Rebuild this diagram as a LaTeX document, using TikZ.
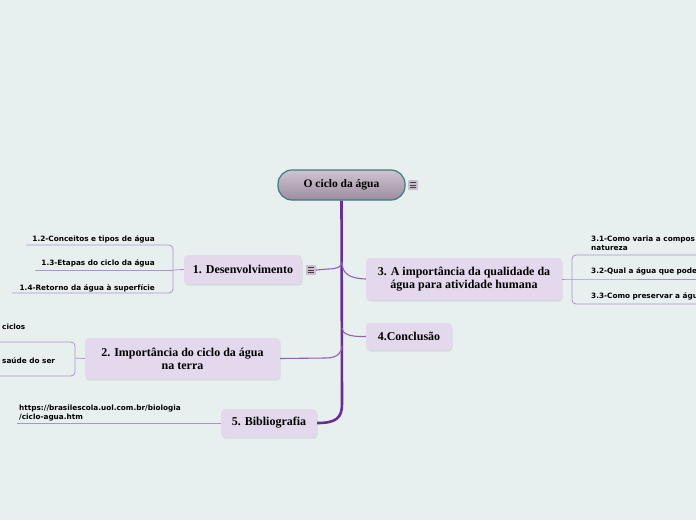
\documentclass[tikz,border=0pt]{standalone}
\usepackage{fontspec}
\setmainfont{Liberation Serif}
\newfontfamily\twigfont{DejaVu Sans}
\usetikzlibrary{calc,positioning,shadows}
\definecolor{bgc}{HTML}{E8F0EF}
\definecolor{trunkc}{HTML}{6A2D96}
\definecolor{branchc}{HTML}{8E62B4}
\definecolor{twigc}{HTML}{AD93C8}
\definecolor{topicc}{HTML}{E4D8EC}
\definecolor{roottop}{HTML}{CFC2D1}
\definecolor{rootbot}{HTML}{9C8E9F}
\definecolor{rootline}{HTML}{3E7C7A}
\definecolor{menuc}{HTML}{C9BDD0}
\tikzset{
  topic/.style={fill=topicc,rounded corners=4pt,align=center,inner sep=2pt,
    font=\bfseries\fontsize{12}{13}\selectfont,
    drop shadow={opacity=0.18,shadow xshift=0.6pt,shadow yshift=-1.6pt}},
  twig/.style={font=\twigfont\bfseries\fontsize{7.3}{9}\selectfont,inner sep=0pt,align=left},
  trunk/.style={line width=2.6pt,trunkc},
  branch/.style={line width=1.1pt,branchc},
  tline/.style={line width=0.8pt,twigc,rounded corners=4pt},
  menu/.style={fill=menuc,rounded corners=1pt,minimum size=10pt,inner sep=0pt}
}
\newcommand{\menuicon}[1]{%
  \draw[black!75,line width=0.8pt] ($(#1)+(-2.6,-2.2)$)--++(5.2,0) ($(#1)+(-2.6,0)$)--++(5.2,0) ($(#1)+(-2.6,2.2)$)--++(5.2,0);}
\begin{document}
\begin{tikzpicture}[x=1pt,y=-1pt]
\fill[bgc] (0,0) rectangle (696,520);
\useasboundingbox (0,0) rectangle (696,520);
\clip (0,0) rectangle (696,520);
% central topic
\node[draw=rootline,line width=1.2pt,top color=roottop,bottom color=rootbot,rounded corners=14pt,
  minimum width=127pt,minimum height=30pt,font=\bfseries\fontsize{11.5}{13}\selectfont] (root) at (341.5,185) {O ciclo da água};
\node[menu] (rootm) at (413,185) {};
\menuicon{rootm}
% main topics
\node[topic,minimum width=118pt,minimum height=29pt] (dev) at (243,269.5) {1. Desenvolvimento};
\node[menu] (devm) at (311,270) {};
\menuicon{devm}
\node[topic,minimum width=195pt,minimum height=41pt] (imp) at (182.5,358.5) {2. Importância do ciclo da água\\na terra};
\node[topic,minimum width=196pt,minimum height=42pt] (qual) at (464,279) {3. A importância da qualidade da\\água para atividade humana};
\node[topic,minimum width=86pt,minimum height=27pt] (conc) at (409,336.5) {4.Conclusão};
\node[topic,minimum width=96pt,minimum height=28pt] (bib) at (269,423) {5. Bibliografia};
% trunk and joints
\coordinate (j1) at (342,262);
\coordinate (j2) at (342,328);
\coordinate (j3) at (342,346);
\coordinate (j4) at (342,404);
\draw[trunk] (root.south) -- (j4) .. controls (342,418) and (336,423) .. (bib.east);
\draw[branch] (devm.east) -- (328,269) .. controls (338,269) and (342,266) .. (j1);
\draw[branch] (j1) .. controls (342,274) and (350,278.5) .. (qual.west);
\draw[branch] (j2) .. controls (342,334) and (350,337) .. (conc.west);
\draw[branch] (imp.east) -- (326,358) .. controls (338,358) and (342,352) .. (j3);
% 1.x
\coordinate (b1) at (173,270);
\coordinate (e12) at (26,245);
\coordinate (e13) at (35,270);
\coordinate (e14) at (12,293);
\draw[tline] (dev.west) -- (b1);
\draw[tline] (e12) -- (173,245) -- (173,293) -- (e14);
\draw[tline] (e13) -- (b1);
\node[twig,anchor=base east] (s12) at (155,241) {1.2-Conceitos e tipos de água};
\node[twig,anchor=base east] (s13) at (155,265) {1.3-Etapas do ciclo da água};
\node[twig,anchor=base east] (s14) at (155,290) {1.4-Retorno da água à superfície};
% 2.x
\coordinate (b2) at (75,358);
\coordinate (e21) at (-5,342);
\coordinate (e22) at (-5,376);
\draw[tline] (imp.west) -- (b2);
\draw[tline] (e21) -- (75,342) -- (75,376) -- (e22);
\node[twig,anchor=base west] (s21) at (2,329) {ciclos};
\node[twig,anchor=base west] (s22) at (2,363) {saúde do ser};
% 3.x
\coordinate (b3) at (572,279);
\coordinate (e31) at (700,255);
\coordinate (e32) at (700,279);
\coordinate (e33) at (700,304);
\draw[tline] (qual.east) -- (b3) -- (e32);
\draw[tline] (e31) -- (572,255) -- (572,304) -- (e33);
\node[twig,anchor=base west] (s31) at (591,250) {3.1-Como varia a compos\\natureza};
\node[twig,anchor=base west] (s32) at (591,273) {3.2-Qual a água que pode};
\node[twig,anchor=base west] (s33) at (591,298) {3.3-Como preservar a águ};
% 5.x
\coordinate (e51) at (17,423);
\draw[tline] (bib.west) -- (e51);
\node[twig,anchor=base west] (s51) at (19,419) {https://brasilescola.uol.com.br/biologia\\/ciclo-agua.htm};
\end{tikzpicture}
\end{document}
